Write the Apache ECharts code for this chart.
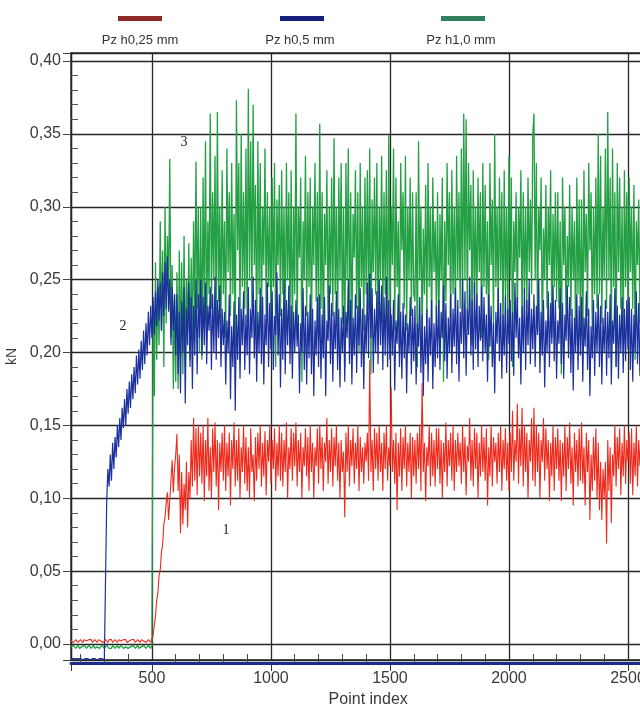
<!DOCTYPE html>
<html>
<head>
<meta charset="utf-8">
<script src="https://cdn.jsdelivr.net/npm/echarts@6/dist/echarts.min.js"></script>
<style>
  html, body { margin: 0; padding: 0; background: #fff; }
  #chart { width: 640px; height: 706px; }
</style>
</head>
<body>
<div id="chart"></div>
<script>
// point index of the first sample and the sampling step
const xStart = 160
const xStep = 5

const seriesNames = ['Pz h0,25 mm', 'Pz h0,5 mm', 'Pz h1,0 mm']
const curveLabels = ['1', '2', '3']

// Pz h0,25 mm (curve 1), kN
const redValues = [
  0.002, 0.003, 0.001, 0.002, 0.003, 0.002, 0.001, 0.002, 0.003, 0.002,
  0.001, 0.003, 0.002, 0.002, 0.001, 0.003, 0.002, 0.003, 0.001, 0.002,
  0.003, 0.002, 0.001, 0.003, 0.002, 0.002, 0.003, 0.001, 0.002, 0.003,
  0.002, 0.001, 0.003, 0.002, 0.003, 0.001, 0.002, 0.003, 0.002, 0.001,
  0.003, 0.002, 0.002, 0.001, 0.003, 0.002, 0.003, 0.001, 0.002, 0.002,
  0.001, 0.003, 0.002, 0.003, 0.001, 0.002, 0.003, 0.002, 0.001, 0.003,
  0.002, 0.002, 0.003, 0.001, 0.002, 0.003, 0.002, 0.001, 0.001,
  0.006, 0.013, 0.019, 0.030, 0.035, 0.047, 0.051, 0.063, 0.068, 0.082,
  0.087, 0.097, 0.104, 0.085, 0.099, 0.112, 0.126, 0.104, 0.121, 0.130,
  0.144, 0.105, 0.130, 0.076, 0.118, 0.082, 0.110, 0.092, 0.125, 0.080,
  0.118, 0.100, 0.140, 0.108, 0.155, 0.112, 0.148, 0.102, 0.150, 0.115,
  0.145, 0.110, 0.150, 0.098, 0.140, 0.115, 0.155, 0.105, 0.135, 0.100,
  0.148, 0.118, 0.152, 0.108, 0.140, 0.092, 0.138, 0.118, 0.145, 0.112,
  0.150, 0.105, 0.138, 0.115, 0.145, 0.095, 0.140, 0.120, 0.152, 0.108,
  0.140, 0.112, 0.148, 0.100, 0.135, 0.118, 0.150, 0.110, 0.142, 0.105,
  0.135, 0.100, 0.148, 0.118, 0.130, 0.098, 0.142, 0.112, 0.145, 0.120,
  0.150, 0.108, 0.138, 0.115, 0.146, 0.102, 0.140, 0.125, 0.150, 0.110,
  0.140, 0.120, 0.148, 0.105, 0.138, 0.115, 0.150, 0.112, 0.145, 0.108,
  0.140, 0.118, 0.152, 0.100, 0.135, 0.120, 0.148, 0.112, 0.145, 0.122,
  0.152, 0.108, 0.140, 0.118, 0.145, 0.100, 0.135, 0.122, 0.148, 0.115,
  0.142, 0.105, 0.150, 0.118, 0.138, 0.100, 0.135, 0.122, 0.148, 0.110,
  0.150, 0.120, 0.142, 0.105, 0.138, 0.125, 0.155, 0.110, 0.140, 0.118,
  0.148, 0.108, 0.142, 0.122, 0.150, 0.112, 0.138, 0.100, 0.140, 0.118,
  0.132, 0.087, 0.145, 0.118, 0.150, 0.108, 0.140, 0.122, 0.148, 0.110,
  0.138, 0.120, 0.150, 0.105, 0.142, 0.118, 0.135, 0.110, 0.138, 0.125,
  0.145, 0.112, 0.195, 0.118, 0.140, 0.105, 0.148, 0.120, 0.145, 0.112,
  0.150, 0.118, 0.138, 0.105, 0.145, 0.120, 0.150, 0.112, 0.135, 0.122,
  0.176, 0.118, 0.140, 0.110, 0.145, 0.092, 0.138, 0.115, 0.148, 0.105,
  0.142, 0.120, 0.150, 0.108, 0.138, 0.118, 0.145, 0.100, 0.142, 0.115,
  0.140, 0.110, 0.145, 0.120, 0.150, 0.105, 0.179, 0.118, 0.138, 0.098,
  0.135, 0.122, 0.150, 0.108, 0.145, 0.115, 0.140, 0.108, 0.148, 0.120,
  0.148, 0.110, 0.140, 0.100, 0.138, 0.118, 0.152, 0.108, 0.140, 0.122,
  0.145, 0.112, 0.150, 0.105, 0.140, 0.118, 0.145, 0.122, 0.138, 0.110,
  0.150, 0.118, 0.142, 0.102, 0.136, 0.125, 0.155, 0.112, 0.140, 0.108,
  0.148, 0.120, 0.145, 0.100, 0.138, 0.115, 0.150, 0.118, 0.142, 0.112,
  0.148, 0.095, 0.135, 0.115, 0.150, 0.108, 0.142, 0.125, 0.138, 0.110,
  0.145, 0.118, 0.150, 0.105, 0.140, 0.120, 0.148, 0.112, 0.138, 0.105,
  0.145, 0.118, 0.160, 0.112, 0.140, 0.125, 0.165, 0.110, 0.148, 0.122,
  0.162, 0.108, 0.150, 0.118, 0.145, 0.100, 0.140, 0.125, 0.155, 0.112,
  0.162, 0.108, 0.150, 0.118, 0.145, 0.100, 0.140, 0.125, 0.155, 0.112,
  0.148, 0.120, 0.140, 0.098, 0.138, 0.115, 0.150, 0.105, 0.142, 0.120,
  0.148, 0.112, 0.140, 0.098, 0.138, 0.115, 0.150, 0.105, 0.142, 0.120,
  0.152, 0.110, 0.135, 0.095, 0.145, 0.118, 0.140, 0.108, 0.148, 0.112,
  0.152, 0.110, 0.135, 0.095, 0.145, 0.118, 0.140, 0.085, 0.130, 0.105,
  0.142, 0.112, 0.148, 0.100, 0.138, 0.092, 0.125, 0.085, 0.120, 0.100,
  0.125, 0.069, 0.140, 0.105, 0.135, 0.083, 0.130, 0.115, 0.150, 0.108,
  0.142, 0.120, 0.148, 0.102, 0.138, 0.115, 0.150, 0.110, 0.140, 0.125,
  0.145, 0.110, 0.148, 0.102, 0.138, 0.115, 0.150, 0.108, 0.140, 0.122,
  0.145, 0.112
]

// Pz h0,5 mm (curve 2), kN
const blueValues = [
  -0.010, -0.011, -0.010, -0.010, -0.011, -0.010, -0.010, -0.011, -0.010, -0.010,
  -0.011, -0.010, -0.010, -0.011, -0.010, -0.010, -0.011, -0.010, -0.010, -0.011,
  -0.010, -0.010, -0.011, -0.010, -0.010, -0.011, -0.010, -0.010, -0.011, -0.010,
  0.098, 0.120, 0.108, 0.130, 0.112, 0.138, 0.120, 0.142, 0.128, 0.150,
  0.135, 0.155, 0.140, 0.162, 0.148, 0.168, 0.150, 0.175, 0.158, 0.180,
  0.162, 0.185, 0.168, 0.190, 0.172, 0.198, 0.178, 0.202, 0.182, 0.208,
  0.188, 0.215, 0.192, 0.220, 0.198, 0.228, 0.205, 0.232, 0.210, 0.238,
  0.212, 0.242, 0.218, 0.250, 0.222, 0.248, 0.215, 0.255, 0.225, 0.262,
  0.230, 0.266, 0.228, 0.250, 0.205, 0.245, 0.215, 0.240, 0.198,
  0.240, 0.185, 0.228, 0.172, 0.235, 0.200, 0.245, 0.165, 0.230, 0.205,
  0.248, 0.190, 0.238, 0.175, 0.232, 0.198, 0.250, 0.185, 0.240, 0.210,
  0.250, 0.198, 0.238, 0.205, 0.248, 0.192, 0.232, 0.215, 0.245, 0.188,
  0.240, 0.200, 0.252, 0.195, 0.236, 0.210, 0.246, 0.190, 0.230, 0.205,
  0.228, 0.178, 0.222, 0.200, 0.240, 0.168, 0.218, 0.190, 0.235, 0.160,
  0.226, 0.195, 0.238, 0.182, 0.230, 0.205, 0.242, 0.188, 0.226, 0.198,
  0.245, 0.185, 0.230, 0.210, 0.252, 0.196, 0.236, 0.180, 0.228, 0.200,
  0.244, 0.192, 0.238, 0.178, 0.226, 0.205, 0.248, 0.190, 0.234, 0.202,
  0.242, 0.188, 0.225, 0.212, 0.255, 0.198, 0.240, 0.176, 0.230, 0.195,
  0.250, 0.185, 0.236, 0.205, 0.246, 0.192, 0.232, 0.182, 0.228, 0.200,
  0.236, 0.204, 0.226, 0.172, 0.220, 0.200, 0.244, 0.188, 0.232, 0.178,
  0.228, 0.196, 0.240, 0.185, 0.230, 0.170, 0.222, 0.198, 0.238, 0.190,
  0.240, 0.182, 0.226, 0.196, 0.238, 0.170, 0.222, 0.208, 0.246, 0.192,
  0.234, 0.180, 0.228, 0.202, 0.242, 0.188, 0.230, 0.176, 0.224, 0.200,
  0.232, 0.180, 0.228, 0.210, 0.250, 0.192, 0.236, 0.178, 0.224, 0.198,
  0.240, 0.186, 0.232, 0.205, 0.244, 0.190, 0.230, 0.175, 0.226, 0.200,
  0.248, 0.196, 0.254, 0.210, 0.244, 0.186, 0.230, 0.200, 0.242, 0.192,
  0.250, 0.205, 0.246, 0.188, 0.238, 0.198, 0.252, 0.190, 0.236, 0.195,
  0.226, 0.198, 0.236, 0.174, 0.222, 0.206, 0.240, 0.190, 0.228, 0.182,
  0.234, 0.196, 0.226, 0.172, 0.220, 0.200, 0.238, 0.185, 0.230, 0.194,
  0.232, 0.178, 0.220, 0.204, 0.238, 0.186, 0.226, 0.170, 0.218, 0.192,
  0.230, 0.180, 0.224, 0.198, 0.236, 0.175, 0.220, 0.190, 0.232, 0.196,
  0.236, 0.188, 0.228, 0.210, 0.246, 0.194, 0.234, 0.182, 0.224, 0.200,
  0.240, 0.186, 0.230, 0.204, 0.244, 0.192, 0.236, 0.180, 0.228, 0.206,
  0.250, 0.196, 0.242, 0.184, 0.230, 0.212, 0.252, 0.198, 0.236, 0.188,
  0.248, 0.202, 0.240, 0.190, 0.232, 0.208, 0.246, 0.194, 0.238, 0.200,
  0.226, 0.180, 0.240, 0.204, 0.232, 0.190, 0.220, 0.172, 0.228, 0.206,
  0.244, 0.194, 0.234, 0.182, 0.226, 0.198, 0.240, 0.186, 0.230, 0.206,
  0.236, 0.194, 0.228, 0.184, 0.248, 0.210, 0.238, 0.196, 0.224, 0.178,
  0.232, 0.200, 0.244, 0.188, 0.236, 0.205, 0.250, 0.192, 0.230, 0.202,
  0.240, 0.190, 0.232, 0.212, 0.250, 0.186, 0.228, 0.198, 0.236, 0.176,
  0.222, 0.200, 0.242, 0.190, 0.234, 0.206, 0.246, 0.194, 0.236, 0.182,
  0.222, 0.206, 0.244, 0.192, 0.234, 0.182, 0.226, 0.208, 0.246, 0.196,
  0.238, 0.186, 0.230, 0.174, 0.224, 0.200, 0.240, 0.188, 0.232, 0.198,
  0.238, 0.180, 0.224, 0.204, 0.242, 0.188, 0.230, 0.170, 0.218, 0.196,
  0.236, 0.184, 0.228, 0.200, 0.240, 0.190, 0.232, 0.178, 0.224, 0.200,
  0.236, 0.184, 0.228, 0.196, 0.240, 0.178, 0.222, 0.206, 0.244, 0.190,
  0.232, 0.182, 0.226, 0.200, 0.238, 0.186, 0.230, 0.194, 0.236, 0.202,
  0.238, 0.188, 0.230, 0.180, 0.226, 0.200, 0.242, 0.192, 0.234, 0.184,
  0.228, 0.198
]

// Pz h1,0 mm (curve 3), kN
const greenValues = [
  -0.002, -0.003, -0.001, -0.002, -0.003, -0.002, -0.001, -0.003, -0.002, -0.002,
  -0.003, -0.001, -0.002, -0.003, -0.002, -0.001, -0.002, -0.003, -0.002, -0.001,
  -0.003, -0.002, -0.002, -0.001, -0.003, -0.002, -0.001, -0.002, -0.003, -0.002,
  -0.001, -0.002, -0.003, -0.002, -0.003, -0.001, -0.002, -0.003, -0.002, -0.001,
  -0.003, -0.002, -0.001, -0.002, -0.003, -0.002, -0.002, -0.001, -0.003, -0.002,
  -0.002, -0.003, -0.001, -0.002, -0.003, -0.002, -0.001, -0.003, -0.002, -0.002,
  -0.003, -0.001, -0.002, -0.003, -0.002, -0.001, -0.002, -0.003, -0.001,
  0.225, 0.170, 0.262, 0.195, 0.245, 0.205, 0.290, 0.215, 0.270, 0.190,
  0.300, 0.220, 0.280, 0.240, 0.333, 0.210, 0.260, 0.175, 0.240, 0.180,
  0.255, 0.175, 0.270, 0.200, 0.262, 0.185, 0.280, 0.190, 0.250, 0.215,
  0.275, 0.195, 0.265, 0.205, 0.290, 0.220, 0.331, 0.230, 0.300, 0.200,
  0.300, 0.195, 0.320, 0.225, 0.345, 0.215, 0.290, 0.240, 0.364, 0.230,
  0.310, 0.250, 0.335, 0.210, 0.365, 0.235, 0.300, 0.220, 0.325, 0.240,
  0.290, 0.210, 0.340, 0.255, 0.310, 0.225, 0.330, 0.240, 0.295, 0.200,
  0.373, 0.270, 0.330, 0.215, 0.350, 0.245, 0.310, 0.230, 0.340, 0.220,
  0.381, 0.250, 0.345, 0.230, 0.370, 0.260, 0.315, 0.200, 0.345, 0.240,
  0.330, 0.215, 0.300, 0.260, 0.340, 0.225, 0.310, 0.245, 0.300, 0.215,
  0.320, 0.245, 0.330, 0.190, 0.305, 0.260, 0.315, 0.225, 0.325, 0.240,
  0.300, 0.210, 0.330, 0.250, 0.310, 0.220, 0.325, 0.200, 0.300, 0.240,
  0.364, 0.210, 0.300, 0.265, 0.320, 0.180, 0.290, 0.250, 0.335, 0.225,
  0.310, 0.245, 0.320, 0.205, 0.300, 0.260, 0.330, 0.235, 0.310, 0.215,
  0.357, 0.230, 0.310, 0.200, 0.295, 0.260, 0.325, 0.215, 0.300, 0.240,
  0.320, 0.225, 0.347, 0.240, 0.300, 0.210, 0.320, 0.250, 0.330, 0.220,
  0.300, 0.190, 0.330, 0.250, 0.340, 0.220, 0.310, 0.205, 0.295, 0.265,
  0.325, 0.230, 0.310, 0.200, 0.330, 0.245, 0.300, 0.215, 0.320, 0.240,
  0.325, 0.230, 0.340, 0.185, 0.305, 0.255, 0.320, 0.240, 0.330, 0.210,
  0.300, 0.250, 0.335, 0.220, 0.310, 0.240, 0.325, 0.205, 0.349, 0.230,
  0.300, 0.260, 0.340, 0.215, 0.320, 0.245, 0.290, 0.200, 0.330, 0.270,
  0.310, 0.230, 0.335, 0.215, 0.300, 0.250, 0.320, 0.225, 0.310, 0.240,
  0.235, 0.310, 0.190, 0.345, 0.250, 0.300, 0.205, 0.285, 0.240, 0.315,
  0.220, 0.330, 0.245, 0.300, 0.210, 0.320, 0.255, 0.290, 0.225, 0.310,
  0.210, 0.295, 0.250, 0.320, 0.180, 0.290, 0.235, 0.330, 0.260, 0.310,
  0.215, 0.325, 0.240, 0.300, 0.220, 0.335, 0.250, 0.310, 0.230, 0.340,
  0.230, 0.364, 0.250, 0.360, 0.220, 0.330, 0.270, 0.315, 0.205, 0.325,
  0.240, 0.300, 0.225, 0.320, 0.255, 0.310, 0.210, 0.330, 0.245, 0.315,
  0.240, 0.290, 0.195, 0.330, 0.260, 0.305, 0.215, 0.350, 0.245, 0.300,
  0.225, 0.320, 0.250, 0.310, 0.205, 0.325, 0.240, 0.300, 0.220, 0.335,
  0.250, 0.320, 0.190, 0.290, 0.255, 0.310, 0.220, 0.300, 0.265, 0.325,
  0.215, 0.310, 0.240, 0.300, 0.230, 0.320, 0.255, 0.305, 0.240, 0.350,
  0.364, 0.250, 0.330, 0.215, 0.300, 0.270, 0.320, 0.200, 0.285, 0.250,
  0.315, 0.230, 0.300, 0.260, 0.325, 0.210, 0.295, 0.245, 0.310, 0.235,
  0.310, 0.230, 0.290, 0.185, 0.320, 0.260, 0.300, 0.215, 0.280, 0.245,
  0.315, 0.225, 0.300, 0.250, 0.290, 0.205, 0.320, 0.240, 0.305, 0.220,
  0.305, 0.200, 0.325, 0.255, 0.295, 0.225, 0.330, 0.270, 0.310, 0.215,
  0.300, 0.240, 0.320, 0.230, 0.350, 0.240, 0.335, 0.220, 0.300, 0.250,
  0.340, 0.230, 0.365, 0.250, 0.320, 0.205, 0.340, 0.245, 0.310, 0.190,
  0.330, 0.255, 0.320, 0.230, 0.300, 0.210, 0.325, 0.245, 0.310, 0.220,
  0.320, 0.255, 0.300, 0.230, 0.315, 0.195, 0.290, 0.260, 0.305, 0.220,
  0.320, 0.240
]

const toPoints = (values) => values.map((v, i) => [xStart + i * xStep, v])

const FONT = '"Liberation Sans", Arial, sans-serif'
const GRID_LINE = '#262626'

const chart = echarts.init(document.getElementById('chart'), null, { renderer: 'canvas' })

const lineSeries = (name, values, color, width) => ({
  name,
  type: 'line',
  data: toPoints(values),
  showSymbol: false,
  symbol: 'none',
  sampling: null,
  lineStyle: { color, width },
  itemStyle: { color },
  silent: true
})

const legendLeft = [118, 280, 441]
const legendColor = ['#8e2a2a', '#15207a', '#2f7f5c']
const legendTextX = [140, 300, 461]

chart.setOption({
  animation: false,
  backgroundColor: '#fff',
  legend: seriesNames.map((name, i) => ({
    data: [{ name, itemStyle: { color: legendColor[i] } }],
    left: legendLeft[i],
    top: 16,
    icon: 'rect',
    itemWidth: 44,
    itemHeight: 5,
    padding: 0,
    selectedMode: false,
    formatter: () => '',
    textStyle: { fontSize: 1 }
  })),
  grid: {
    left: 71,
    top: 53,
    width: 628.4,
    height: 607,
    outerBoundsMode: 'none',
    containLabel: false,
    show: true,
    borderColor: GRID_LINE,
    borderWidth: 1.3,
    backgroundColor: '#fff'
  },
  xAxis: {
    type: 'value',
    min: 160,
    max: 2800,
    splitNumber: 5,
    offset: 3,
    name: 'Point index',
    nameLocation: 'middle',
    nameGap: 27,
    nameTextStyle: { fontFamily: FONT, fontSize: 16, color: '#3a3a3a', padding: [0, 34, 0, 0] },
    axisLine: { show: true, onZero: false, lineStyle: { color: '#1c2c8c', width: 3 } },
    axisTick: { show: true, length: 8, lineStyle: { color: '#333' } },
    minorTick: { show: true, splitNumber: 5, length: -9, lineStyle: { color: '#444' } },
    axisLabel: {
      showMinLabel: false,
      showMaxLabel: false,
      margin: 8,
      fontFamily: FONT,
      fontSize: 16,
      color: '#3a3a3a',
      formatter: (v) => String(v)
    },
    splitLine: { show: true, lineStyle: { color: GRID_LINE, width: 1.3 } }
  },
  yAxis: {
    type: 'value',
    min: -0.011,
    max: 0.4055,
    splitNumber: 8,
    name: 'kN',
    nameLocation: 'middle',
    nameGap: 48,
    nameRotate: 90,
    nameTextStyle: { fontFamily: FONT, fontSize: 14, color: '#3a3a3a' },
    axisLine: { show: true, lineStyle: { color: GRID_LINE, width: 1.3 } },
    axisTick: { show: true, length: 8, lineStyle: { color: '#444' } },
    minorTick: { show: true, splitNumber: 5, length: -7, lineStyle: { color: '#555' } },
    axisLabel: {
      showMinLabel: false,
      showMaxLabel: false,
      margin: 10,
      fontFamily: FONT,
      fontSize: 16,
      color: '#3a3a3a',
      formatter: (v) => v.toFixed(2).replace('.', ',')
    },
    splitLine: { show: true, lineStyle: { color: GRID_LINE, width: 1.3 } }
  },
  graphic: [
    ...seriesNames.map((name, i) => ({
      type: 'text',
      x: legendTextX[i],
      y: 40,
      style: {
        text: name,
        fontFamily: FONT,
        fontSize: 13,
        fill: '#333',
        align: 'center',
        verticalAlign: 'middle'
      }
    })),
    // curve numbers, placed next to each curve
    ...[[226, 530], [123, 326], [184, 142]].map((p, i) => ({
      type: 'text',
      x: p[0],
      y: p[1],
      z: 10,
      style: {
        text: curveLabels[i],
        fontFamily: '"Liberation Serif", "Times New Roman", serif',
        fontSize: 14,
        fill: '#222',
        align: 'center',
        verticalAlign: 'middle'
      }
    }))
  ],
  series: [
    lineSeries(seriesNames[2], greenValues, '#23a043', 1.3),
    lineSeries(seriesNames[1], blueValues, '#1b2f9e', 1.2),
    lineSeries(seriesNames[0], redValues, '#ee2a1c', 1.1)
  ]
})
</script>
</body>
</html>
